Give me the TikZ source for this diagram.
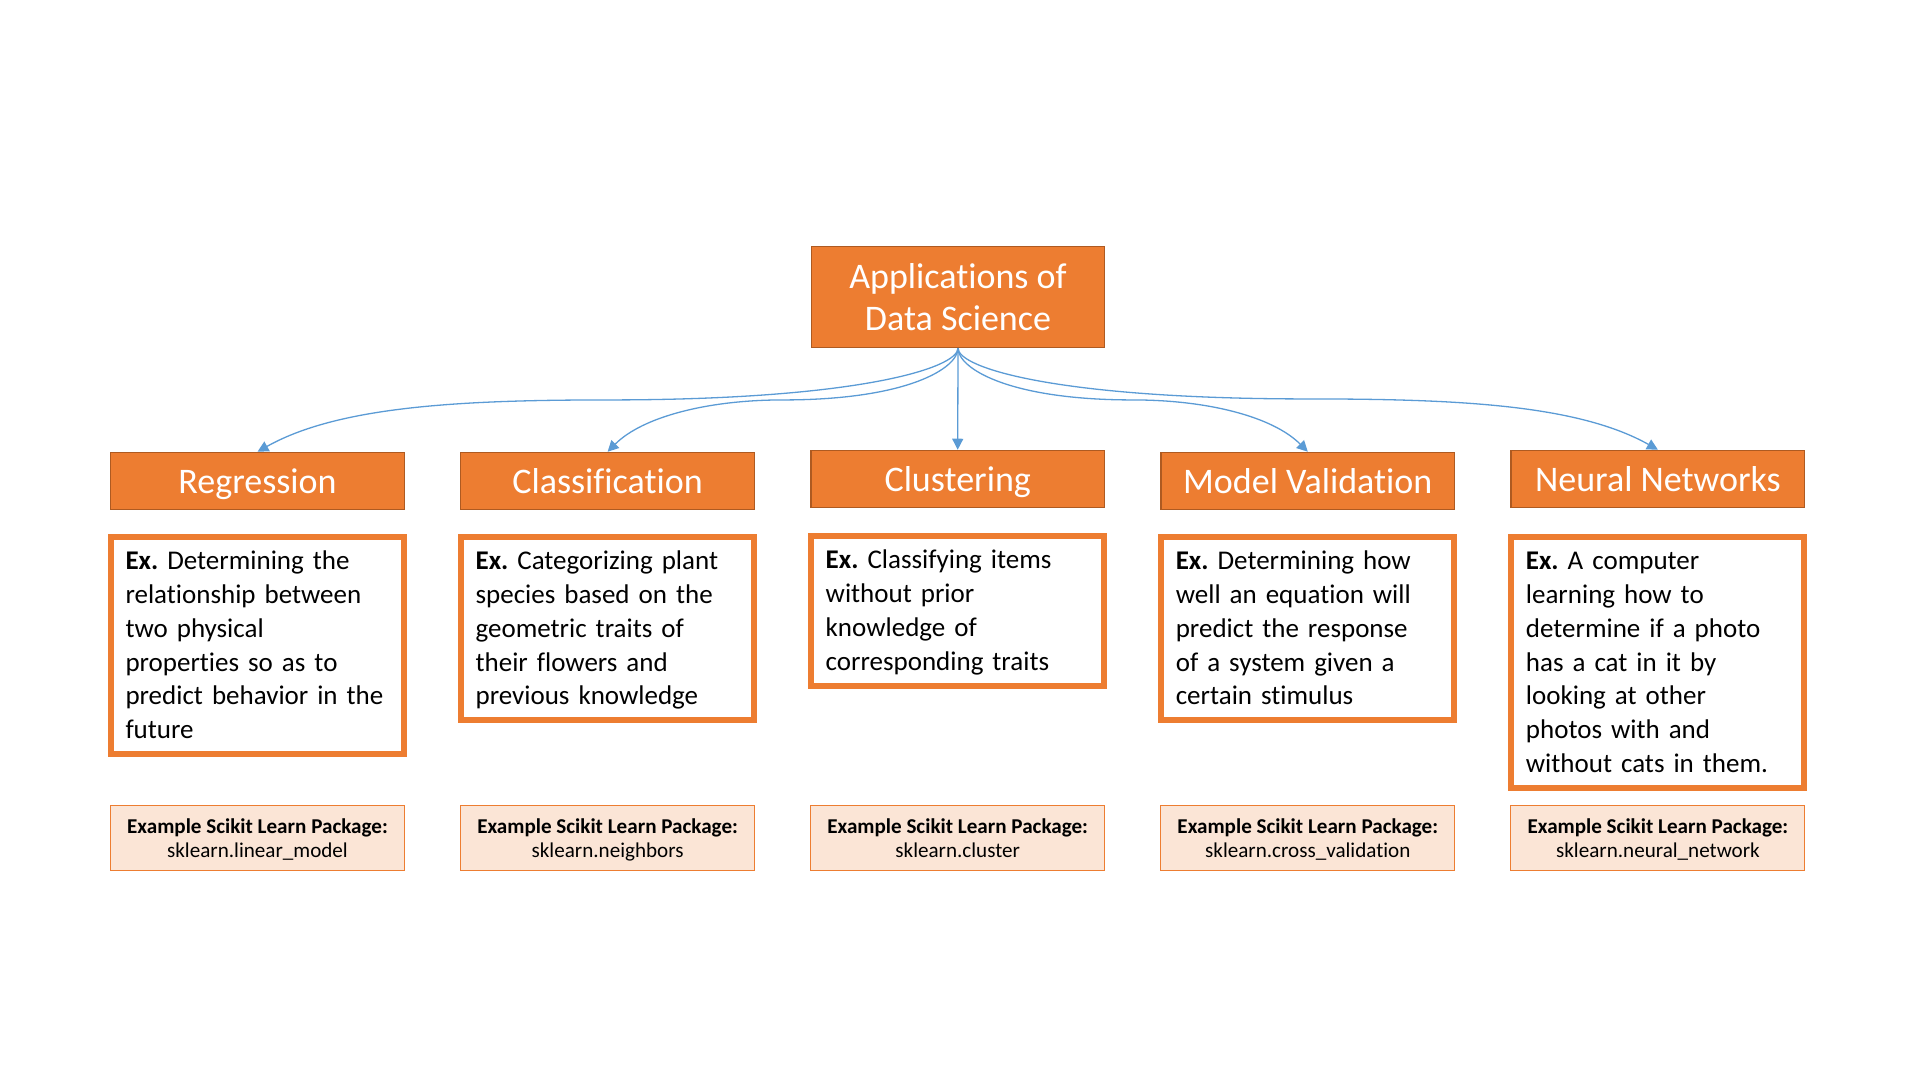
\documentclass[tikz,border=0pt]{standalone}
\usepackage{fontspec}
\setmainfont{Carlito}[Ligatures=NoCommon]
\frenchspacing
\usetikzlibrary{arrows.meta,calc}

\begin{document}
\begin{tikzpicture}[x=0.5pt,y=0.5pt,
  topnode/.style={fill=dsorange,draw=dsdark,line width=0.65pt,text=white,minimum width=146.8pt,minimum height=28.6pt,inner sep=0pt,text height=12.6pt,text depth=0pt,font=\fontsize{18}{21.35}\selectfont},
  exnode/.style={draw=dsorange,line width=3pt,fill=white,text width=132pt,inner xsep=7.25pt,inner ysep=4.5pt,align=left,anchor=north,font=\fontsize{13.5}{16.85}\selectfont,execute at begin node=\rule{0pt}{12pt},execute at end node=\rule[-3.3pt]{0pt}{3.3pt}},
  pkgnode/.style={fill=pkgfill,draw=dsorange,line width=0.5pt,minimum width=147pt,inner sep=0pt,text height=26.15pt,text depth=6.35pt,align=center,font=\fontsize{10.55}{12.25}\selectfont},
  link/.style={draw=linkblue,line width=0.65pt,-{Triangle[length=5.5pt,width=5.5pt]}}]
\definecolor{dsorange}{HTML}{ED7D31}
\definecolor{dsdark}{HTML}{AE5A21}
\definecolor{pkgfill}{HTML}{FBE5D6}
\definecolor{linkblue}{HTML}{5B9BD5}
\useasboundingbox (0,0) rectangle (1920,1080);
\node[topnode,align=center,minimum width=146.5pt,minimum height=50.5pt,text height=,text depth=] (root) at (958,783) {Applications of\\Data Science};
  \foreach \i/\hy/\ey/\title/\extext/\pkg in {
    1/599/546/Regression/{\textbf{Ex.} Determining the\\relationship between\\two physical\\properties so as to\\predict behavior in the\\future}/linear\_model,
    2/599/546/Classification/{\textbf{Ex.} Categorizing plant\\species based on the\\geometric traits of\\their flowers and\\previous knowledge}/neighbors,
    3/601/547/Clustering/{\textbf{Ex.} Classifying items\\without prior\\knowledge of\\corresponding traits}/cluster,
    4/599/546/Model Validation/{\textbf{Ex.} Determining how\\well an equation will\\predict the response\\of a system given a\\certain stimulus}/cross\_validation,
    5/601/546/Neural Networks/{\textbf{Ex.} A computer\\learning how to\\determine if a photo\\has a cat in it by\\looking at other\\photos with and\\without cats in them.}/neural\_network}
  { \node[topnode] (head\i) at ({257.5+350.1*(\i-1)},\hy) {\title};
    \node[exnode] (ex\i) at ({257.5+350.1*(\i-1)},\ey) {\extext};
    \node[pkgnode] (pkg\i) at ({257.5+350.1*(\i-1)},242) {\textbf{Example Scikit Learn Package:}\\sklearn.\pkg}; }
% curved links from the root, flat in the middle
  \foreach \i/\b/\c/\ex/\ey in {1/250/-150/80/45,2/125/-75/35/35,4/-125/75/-35/35,5/-250/150/-80/45}
  { \draw[link] (root.south) .. controls +(0,-20) and +(\b,0) .. ($(root.south)!.5!(head\i.north)$) .. controls +(\c,0) and +(\ex,\ey) .. (head\i.north); }
\draw[link] (root.south) -- (head3.north);
\end{tikzpicture}
\end{document}
